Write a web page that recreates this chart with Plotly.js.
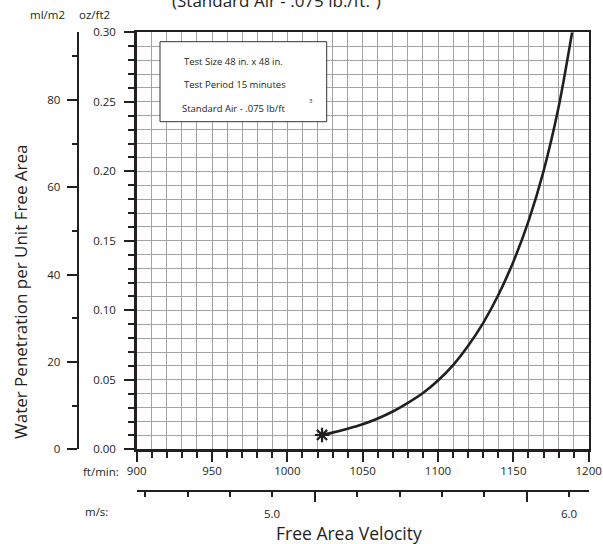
<!DOCTYPE html>
<html>
<head>
<meta charset="utf-8">
<script src="https://cdn.plot.ly/plotly-3.0.1.min.js"></script>
<style>html,body{margin:0;padding:0;background:#fff;}#chart{width:603px;height:544px;}</style>
</head>
<body>
<div id="chart"></div>
<script>
// Curve: free area velocity (ft/min) vs water penetration (oz/ft2)
var velocityFtMin = [1023, 1030, 1040, 1050, 1060, 1070, 1080, 1090, 1100, 1110, 1120, 1130, 1140, 1150, 1160, 1170, 1180, 1189];
var penetrationOzFt2 = [0.0103, 0.0120, 0.0148, 0.0180, 0.0222, 0.0272, 0.0334, 0.0405, 0.0495, 0.0606, 0.0745, 0.0910, 0.1110, 0.1350, 0.1640, 0.2000, 0.2460, 0.3000];
// Start point (asterisk)
var startVelocity = [1023];
var startPenetration = [0.0103];

// Secondary m/s scale ticks (as printed)
var msLabelVals = [5.0, 6.0];
var msLabelText = ['5.0', '6.0'];
var msBigTicks = [5.1429, 5.8571];
var msSmallTicks = [4.5714, 4.7143, 4.8571, 5.0, 5.2857, 5.4286, 5.5714, 5.7143, 6.0];

var boxLines = ['Test Size 48 in. x 48 in.', 'Test Period 15 minutes', 'Standard Air - .075 lb/ft'];

var FONT = 'Open Sans, sans-serif';
var INK = '#231f20';
var GRID = '#a3a3a3';

var W = 603, H = 544;
function px(x){return x / W;}
function py(y){return 1 - y / H;}

var xDom = [px(136.7), px(588.7)];
var yDom = [py(449.3), py(32.3)];

var traces = [
  {x: velocityFtMin, y: penetrationOzFt2, type: 'scatter', mode: 'lines',
   line: {color: INK, width: 2.6, shape: 'spline', smoothing: 0.8},
   xaxis: 'x', yaxis: 'y', hoverinfo: 'skip', showlegend: false},
  {x: startVelocity, y: startPenetration, type: 'scatter', mode: 'markers',
   marker: {symbol: 'asterisk-open', size: 12, color: INK, line: {color: INK, width: 2.2}},
   xaxis: 'x', yaxis: 'y', hoverinfo: 'skip', showlegend: false, cliponaxis: false},
  // helper traces so the secondary axes exist
  {x: msLabelVals, y: [0, 0], type: 'scatter', mode: 'markers', marker: {opacity: 0},
   xaxis: 'x2', yaxis: 'y', hoverinfo: 'skip', showlegend: false},
  {x: [900], y: [0], type: 'scatter', mode: 'markers', marker: {opacity: 0},
   xaxis: 'x', yaxis: 'y2', hoverinfo: 'skip', showlegend: false}
];

var annotations = [
  {text: '(Standard Air - .075 lb./ft.³)', xref: 'paper', yref: 'paper', x: px(276), y: py(14),
   xanchor: 'center', yanchor: 'bottom', showarrow: false, font: {family: FONT, size: 17, color: INK}},
  {text: 'ml/m2', xref: 'paper', yref: 'paper', x: px(47), y: py(14), xanchor: 'center', yanchor: 'middle',
   showarrow: false, font: {family: FONT, size: 11.5, color: INK}},
  {text: 'oz/ft2', xref: 'paper', yref: 'paper', x: px(94), y: py(14), xanchor: 'center', yanchor: 'middle',
   showarrow: false, font: {family: FONT, size: 11.5, color: INK}},
  {text: 'ft/min:', xref: 'paper', yref: 'paper', x: px(121), y: py(471.5), xanchor: 'right', yanchor: 'middle',
   showarrow: false, font: {family: FONT, size: 11.5, color: INK}},
  {text: 'm/s:', xref: 'paper', yref: 'paper', x: px(96), y: py(511), xanchor: 'center', yanchor: 'middle',
   showarrow: false, font: {family: FONT, size: 11.5, color: INK}},
  {text: 'Free Area Velocity', xref: 'paper', yref: 'paper', x: px(348.5), y: py(533), xanchor: 'center', yanchor: 'middle',
   showarrow: false, font: {family: FONT, size: 17.5, color: INK}},
  {text: 'Water Penetration per Unit Free Area', xref: 'paper', yref: 'paper', x: px(20), y: py(292),
   xanchor: 'center', yanchor: 'middle', textangle: -90, showarrow: false, font: {family: FONT, size: 17, color: INK}},
  {text: boxLines[0], xref: 'paper', yref: 'paper', x: px(233.5), y: py(61.7), xanchor: 'center', yanchor: 'middle',
   showarrow: false, font: {family: FONT, size: 9.5, color: INK}},
  {text: boxLines[1], xref: 'paper', yref: 'paper', x: px(234.5), y: py(84.3), xanchor: 'center', yanchor: 'middle',
   showarrow: false, font: {family: FONT, size: 9.5, color: INK}},
  {text: boxLines[2], xref: 'paper', yref: 'paper', x: px(233.5), y: py(108.3), xanchor: 'center', yanchor: 'middle',
   showarrow: false, font: {family: FONT, size: 9.5, color: INK}},
  {text: '3', xref: 'paper', yref: 'paper', x: px(311), y: py(101), xanchor: 'center', yanchor: 'middle',
   showarrow: false, font: {family: FONT, size: 6, color: INK}}
];
// m/s labels on the secondary scale
msLabelVals.forEach(function(v, i){
  annotations.push({text: msLabelText[i], xref: 'x2', yref: 'paper', x: v, y: py(513), xanchor: 'center', yanchor: 'middle',
    showarrow: false, font: {family: FONT, size: 11.5, color: INK}});
});

var layout = {
  width: W, height: H,
  margin: {l: 0, r: 0, t: 0, b: 0, autoexpand: false},
  paper_bgcolor: '#ffffff', plot_bgcolor: '#ffffff',
  showlegend: false, hovermode: false,
  font: {family: FONT, color: INK, size: 12},
  xaxis: {
    domain: xDom, range: [900, 1200], anchor: 'y', side: 'bottom',
    showline: true, linecolor: INK, linewidth: 2.5, mirror: true,
    ticks: 'outside', ticklen: 10, tickwidth: 2, tickcolor: INK,
    tick0: 900, dtick: 50, showgrid: true, gridcolor: GRID, gridwidth: 1,
    tickfont: {family: FONT, size: 11.5, color: INK}, ticklabelstandoff: -1,
    zeroline: false, fixedrange: true,
    minor: {tick0: 900, dtick: 10, ticks: 'outside', ticklen: 6, tickwidth: 2, tickcolor: INK,
            showgrid: true, gridcolor: GRID, gridwidth: 1}
  },
  yaxis: {
    domain: yDom, range: [0, 0.30], anchor: 'x', side: 'left',
    showline: true, linecolor: INK, linewidth: 2.5, mirror: true,
    ticks: 'outside', ticklen: 10, tickwidth: 2, tickcolor: INK,
    tick0: 0, dtick: 0.05, tickformat: '.2f', showgrid: true, gridcolor: GRID, gridwidth: 1,
    tickfont: {family: FONT, size: 11.5, color: INK}, ticklabelstandoff: 6,
    zeroline: false, fixedrange: true,
    minor: {tick0: 0, dtick: 0.01, ticks: 'outside', ticklen: 6, tickwidth: 2, tickcolor: INK,
            showgrid: true, gridcolor: GRID, gridwidth: 1}
  },
  yaxis2: {
    overlaying: 'y', anchor: 'free', position: px(77.7), side: 'left',
    range: [0, 95.5], showline: true, linecolor: INK, linewidth: 2.5,
    ticks: 'outside', ticklen: 10, tickwidth: 2, tickcolor: INK,
    tick0: 0, dtick: 20, showgrid: false, zeroline: false,
    tickfont: {family: FONT, size: 11.5, color: INK}, ticklabelstandoff: 4, fixedrange: true,
    minor: {tick0: 0, dtick: 10, ticks: 'outside', ticklen: 5, tickwidth: 2, tickcolor: INK, showgrid: false}
  },
  xaxis2: {
    overlaying: 'x', anchor: 'free', position: py(490.7), side: 'bottom',
    range: [4.5425, 6.0664], showline: true, linecolor: INK, linewidth: 2,
    tickmode: 'array', tickvals: msBigTicks, ticktext: ['', ''],
    ticks: 'outside', ticklen: 10, tickwidth: 2, tickcolor: INK,
    showticklabels: false, showgrid: false, zeroline: false, fixedrange: true,
    minor: {tickmode: 'array', tickvals: msSmallTicks, ticks: 'outside', ticklen: 5, tickwidth: 2, tickcolor: INK, showgrid: false}
  },
  shapes: [
    {type: 'rect', xref: 'paper', yref: 'paper', x0: px(160), x1: px(326.7), y0: py(121.7), y1: py(41.7),
     line: {color: '#333333', width: 1}, fillcolor: '#ffffff', layer: 'above'}
  ],
  annotations: annotations
};

Plotly.newPlot('chart', traces, layout, {displayModeBar: false, staticPlot: true});
</script>
</body>
</html>
